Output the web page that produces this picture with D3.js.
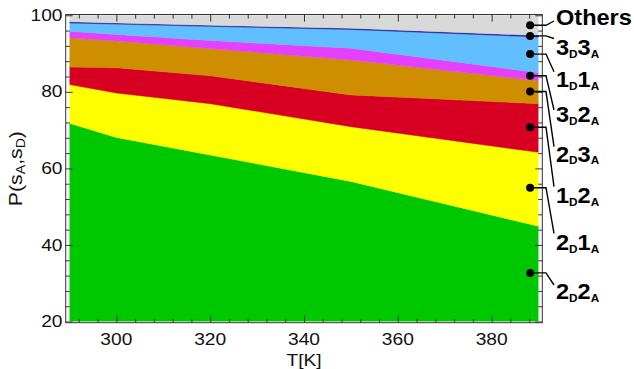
<!DOCTYPE html>
<html><head><meta charset="utf-8">
<script src="https://cdn.jsdelivr.net/npm/d3@7"></script>
<style>body{margin:0;background:#fff}svg{display:block}</style>
</head><body><svg id="c" width="634" height="369"></svg>
<script>
// ---- data ----
const temperatures = [290, 300, 320, 350, 390];
const seriesKeys = ["2D2A", "2D1A", "1D2A", "2D3A", "3D2A", "1D1A", "3D3A", "Others"];
const p2D2A   = [71.8, 68.1, 63.5, 56.6, 44.9];
const p2D1A   = [10.1, 11.6, 13.4, 14.3, 19.3];
const p1D2A   = [4.6, 6.6, 7.3, 8.3, 12.7];
const p2D3A   = [7.6, 7.0, 7.1, 9.1, 6.0];
const p3D2A   = [1.7, 1.7, 2.1, 3.1, 2.1];
const p1D1A   = [2.2, 2.7, 3.7, 4.9, 9.35];
const p3D3A   = [0.3, 0.3, 0.3, 0.3, 0.35];
const pOthers = [1.7, 2.0, 2.6, 3.4, 5.3];
const xTickValues = [300, 320, 340, 360, 380];
const yTickValues = [20, 40, 60, 80, 100];
const seriesLabelParts = [["2","D","2","A"],["2","D","1","A"],["1","D","2","A"],["2","D","3","A"],
                          ["3","D","2","A"],["1","D","1","A"],["3","D","3","A"],["Others"]];

// ---- styles / layout ----
const colors = ["#00c800", "#ffff00", "#d70022", "#cf8e00", "#e640ff", "#62bfff", "#1e1e96", "#d9d9d9"];
const labelBaselines = [299.3, 250, 203.3, 161.7, 122.3, 87.3, 55, 25];
const leaderEnds = [285, 233.3, 186.7, 146.7, 110, 71.7, 38.5, 21];

const values = [p2D2A, p2D1A, p1D2A, p2D3A, p3D2A, p1D1A, p3D3A, pOthers];
const table = temperatures.map((T, i) => {
  const row = { T };
  seriesKeys.forEach((k, j) => row[k] = values[j][i]);
  return row;
});

const svg = d3.select("#c");
svg.append("rect").attr("width", 634).attr("height", 369).attr("fill", "#fff");

const x = d3.scaleLinear().domain([289.2, 390.8]).range([65.7, 542.3]);
const y = d3.scaleLinear().domain([19.7, 100.2]).range([322.7, 14.5]);

const stack = d3.stack().keys(seriesKeys);
const layers = stack(table);

svg.append("clipPath").attr("id", "clip").append("rect")
  .attr("x", x(290)).attr("y", y(100)).attr("width", x(390) - x(290)).attr("height", y(20) - y(100));

const area = d3.area().x(d => x(d.data.T)).y0(d => y(d[0])).y1(d => y(d[1]));
svg.append("g").attr("clip-path", "url(#clip)")
  .selectAll("path").data(layers).join("path")
  .attr("d", area)
  .attr("fill", (d, i) => colors[i])
  .attr("stroke", (d, i) => colors[i])
  .attr("stroke-width", 0.5);

// ---- frame and ticks ----
const tickColor = "#333";
const xMinor = d3.range(292, 390, 4).filter(v => v % 20 !== 0);
const yMinor = d3.range(24, 100, 4).filter(v => v % 20 !== 0);
function styleAxis(g) {
  g.select(".domain").remove();
  g.selectAll("line").attr("stroke", tickColor);
  g.selectAll("text").remove();
}
const fx0 = x.range()[0], fx1 = x.range()[1], fy0 = y.range()[1], fy1 = y.range()[0];
[[d3.axisBottom, fy1], [d3.axisTop, fy0]].forEach(([ax, pos]) => {
  svg.append("g").attr("transform", `translate(0,${pos})`)
    .call(ax(x).tickValues(xTickValues).tickSize(-7).tickSizeOuter(0).tickFormat("")).call(styleAxis);
  svg.append("g").attr("transform", `translate(0,${pos})`)
    .call(ax(x).tickValues(xMinor).tickSize(-4).tickSizeOuter(0).tickFormat("")).call(styleAxis);
});
[[d3.axisLeft, fx0], [d3.axisRight, fx1]].forEach(([ax, pos]) => {
  svg.append("g").attr("transform", `translate(${pos},0)`)
    .call(ax(y).tickValues(yTickValues).tickSize(-7).tickSizeOuter(0).tickFormat("")).call(styleAxis);
  svg.append("g").attr("transform", `translate(${pos},0)`)
    .call(ax(y).tickValues(yMinor).tickSize(-4).tickSizeOuter(0).tickFormat("")).call(styleAxis);
});
svg.append("rect").attr("x", fx0).attr("y", fy0).attr("width", fx1 - fx0).attr("height", fy1 - fy0)
  .attr("fill", "none").attr("stroke", tickColor).attr("stroke-width", 1);

// tick labels
const font = "'Liberation Sans', Arial, Helvetica, sans-serif";
yTickValues.forEach(v => {
  svg.append("text").attr("transform", `translate(62.5,${y(v) + 5.6}) scale(1.2,1)`)
    .attr("text-anchor", "end").attr("font-family", font).attr("font-size", 16).attr("fill", "#111").text(v);
});
xTickValues.forEach(v => {
  svg.append("text").attr("transform", `translate(${x(v)},345) scale(1.2,1)`)
    .attr("text-anchor", "middle").attr("font-family", font).attr("font-size", 16).attr("fill", "#111").text(v);
});
svg.append("text").attr("transform", `translate(${(fx0 + fx1) / 2},366) scale(1.2,1)`)
  .attr("text-anchor", "middle").attr("font-family", font).attr("font-size", 16).attr("fill", "#111").text("T[K]");

const yl = svg.append("text").attr("transform", `translate(21.5,${(fy0 + fy1) / 2}) rotate(-90) scale(1.18,1)`)
  .attr("text-anchor", "middle").attr("font-family", font).attr("font-size", 18).attr("fill", "#111");
yl.append("tspan").text("P(s");
yl.append("tspan").attr("font-size", 12).attr("dy", 3).text("A");
yl.append("tspan").attr("dy", -3).text(",s");
yl.append("tspan").attr("font-size", 12).attr("dy", 3).text("D");
yl.append("tspan").attr("dy", -3).text(")");

// ---- callouts ----
const tAnchor = 388.2;
const iA = temperatures.length - 2;
const frac = (tAnchor - temperatures[iA]) / (temperatures[iA + 1] - temperatures[iA]);
layers.forEach((layer, i) => {
  const a = layer[iA], b = layer[iA + 1];
  const lo = Math.max(20, a[0] + (b[0] - a[0]) * frac);
  const hi = Math.min(100, a[1] + (b[1] - a[1]) * frac);
  const dy = y((lo + hi) / 2), dx = x(tAnchor);
  svg.append("path")
    .attr("d", `M${dx},${dy}H546L554,${leaderEnds[i]}`)
    .attr("fill", "none").attr("stroke", "#000").attr("stroke-width", 1.4);
  svg.append("circle").attr("cx", dx).attr("cy", dy).attr("r", 4).attr("fill", "#000");
  const t = svg.append("text").attr("transform", `translate(556,${labelBaselines[i]}) scale(1.07,1)`)
    .attr("font-family", font).attr("font-weight", "bold").attr("font-size", 22).attr("fill", "#000");
  const parts = seriesLabelParts[i];
  parts.forEach((p, k) => {
    const sub = k % 2 === 1;
    const ts = t.append("tspan").text(p);
    if (sub) ts.attr("font-size", 11).attr("dy", 2.6);
    else if (k > 0) ts.attr("dy", -2.6);
  });
});
</script></body></html>
